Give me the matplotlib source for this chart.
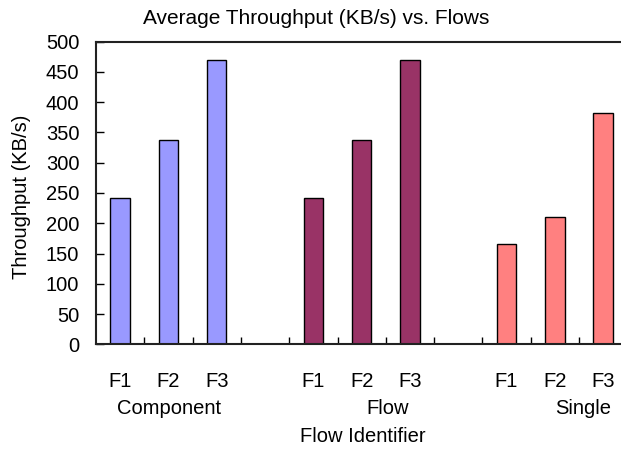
import numpy as np
import matplotlib.pyplot as plt

plt.rcParams['font.family'] = ['Liberation Sans', 'DejaVu Sans']

groups = ["Component", "Flow", "Single"]
flows = ["F1", "F2", "F3"]
component = [242, 338, 469]
flow = [242, 338, 469]
single = [166, 210, 383]
colors = ["#9999FF", "#993366", "#FF8080"]

fs = 14.5

fig = plt.figure(figsize=(6.21, 4.5), dpi=100)
ax = fig.add_axes([96 / 621, 105.7 / 450, 525 / 621, 302.6 / 450])

# each group takes 3 slots plus one empty slot
pos = 0
centers = []
for vals, c in zip([component, flow, single], colors):
    x = np.arange(pos, pos + len(vals))
    ax.bar(x, vals, width=0.4, color=c, edgecolor="black", linewidth=1)
    centers.extend(x)
    pos += len(vals) + 1

ax.set_xlim(-0.5, -0.5 + 525 / 48.3)
ax.set_ylim(0, 500)
ax.set_yticks(np.arange(0, 501, 50))
ax.set_xticks(centers)
ax.set_xticklabels(flows * len(groups))
ax.set_xticks(np.arange(0.5, 10, 1), minor=True)

ax.tick_params(axis="y", direction="in", length=6, width=1, pad=12, labelsize=fs)
ax.tick_params(axis="x", which="major", length=0, pad=20, labelsize=fs)
ax.tick_params(axis="x", which="minor", direction="in", length=5, width=1)

ax.spines["right"].set_visible(False)
for s in ["left", "top", "bottom"]:
    ax.spines[s].set_linewidth(1.5)
    ax.spines[s].set_color("#222222")

# group names under the flow labels
for name, xp in zip(groups, [169, 388, 583]):
    fig.text(xp / 621, 1 - 408 / 450, name, ha="center", va="center", fontsize=fs)

fig.text(363 / 621, 1 - 437 / 450, "Flow Identifier", ha="center", va="center", fontsize=fs)
fig.text(316 / 621, 1 - 18 / 450, "Average Throughput (KB/s) vs. Flows", ha="center", va="center", fontsize=15)
fig.text(22 / 621, 1 - 197 / 450, "Throughput (KB/s)", ha="center", va="center", rotation=90, fontsize=fs)

fig.savefig("out.png", dpi=100)
